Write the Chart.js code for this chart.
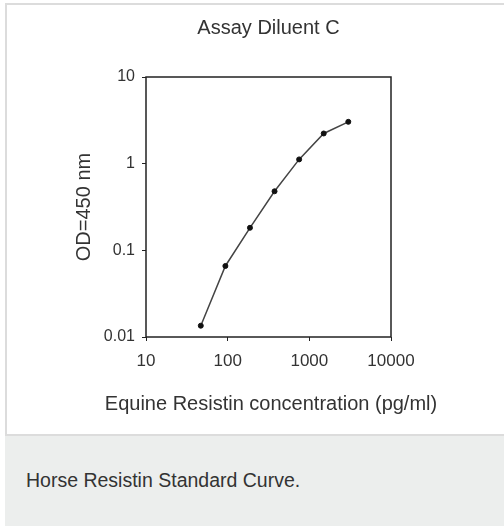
<!DOCTYPE html>
<html>
<head>
<meta charset="utf-8">
<script src="https://cdn.jsdelivr.net/npm/chart.js@4"></script>
<style>
  html, body { margin: 0; padding: 0; background: #fff; }
  body { width: 504px; height: 526px; position: relative; overflow: hidden; font-family: "Liberation Sans", Arial, sans-serif; }
  .panel { position: absolute; left: 5px; top: 3px; width: 520px; height: 429px; border: 2px solid #dcdcdc; border-right: none; background: #fff; }
  .caption { position: absolute; left: 5px; top: 436px; width: 520px; height: 90px; background: #eceeed; }
  .caption p { margin: 0; position: absolute; left: 21px; top: 34px; font-size: 19.5px; line-height: 20px; color: #333; white-space: nowrap; }
  #wrap { position: absolute; left: 0; top: 0; width: 504px; height: 434px; }
</style>
</head>
<body>
<div class="panel"></div>
<div class="caption"><p>Horse Resistin Standard Curve.</p></div>
<div id="wrap"><canvas id="myChart" aria-label="chart" role="img"></canvas></div>
<script>
// standard curve points
const concentrations = [46.875, 93.75, 187.5, 375, 750, 1500, 3000];
const odValues = [0.0135, 0.066, 0.182, 0.48, 1.12, 2.23, 3.04];
const xTicks = [10, 100, 1000, 10000];
const yTicks = [0.01, 0.1, 1, 10];

Chart.defaults.font.family = '"Liberation Sans", Arial, sans-serif';
Chart.defaults.color = "#333";

// box round the plot area
const frame = {
  id: "frame",
  afterDraw(chart) {
    const { ctx, chartArea } = chart;
    ctx.save();
    ctx.strokeStyle = "#222";
    ctx.lineWidth = 1.5;
    ctx.strokeRect(chartArea.left, chartArea.top, chartArea.right - chartArea.left, chartArea.bottom - chartArea.top);
    ctx.restore();
  },
};

const myChart = new Chart(document.getElementById("myChart"), {
  type: "line",
  data: {
    datasets: [
      {
        label: "Assay Diluent C",
        data: concentrations.map((c, i) => ({ x: c, y: odValues[i] })),
        borderColor: "#444",
        borderWidth: 1.5,
        tension: 0,
        pointRadius: 2.5,
        pointBackgroundColor: "#111",
        pointBorderColor: "#111",
        pointBorderWidth: 1,
      },
    ],
  },
  options: {
    responsive: true,
    maintainAspectRatio: false,
    animation: false,
    layout: { padding: { left: 38, right: 0, top: 0, bottom: 0 } },
    plugins: {
      legend: { display: false },
      tooltip: { enabled: false },
      title: {
        display: true,
        fullSize: false,
        text: "Assay Diluent C",
        color: "#333",
        font: { size: 20, weight: "normal" },
        padding: { top: 16, bottom: 37 },
      },
      // x axis title, drawn as a bottom subtitle so it is not squeezed to the plot width
      subtitle: {
        display: true,
        position: "bottom",
        text: "Equine Resistin concentration (pg/ml)",
        color: "#333",
        font: { size: 20, weight: "normal" },
        padding: { top: 15.5, bottom: 17.5 },
      },
    },
    scales: {
      x: {
        type: "logarithmic",
        min: 10,
        max: 10000,
        afterBuildTicks: (scale) => {
          scale.ticks = xTicks.map((v) => ({ value: v }));
        },
        afterFit: (scale) => {
          scale.height = 40;
        },
        border: { display: false },
        grid: { drawOnChartArea: false, drawTicks: true, tickLength: 4, color: "#222" },
        ticks: { font: { size: 17 }, padding: 10, maxRotation: 0, callback: (v) => String(v) },
      },
      y: {
        type: "logarithmic",
        min: 0.01,
        max: 10,
        afterBuildTicks: (scale) => {
          scale.ticks = yTicks.map((v) => ({ value: v }));
        },
        afterFit: (scale) => {
          scale.width = 108;
        },
        border: { display: false },
        grid: { drawOnChartArea: false, drawTicks: true, tickLength: 4, color: "#222" },
        ticks: { font: { size: 16 }, padding: 7, callback: (v) => String(v) },
        title: {
          display: true,
          text: "OD=450 nm",
          font: { size: 20 },
          padding: { top: 34, bottom: 0 },
        },
      },
      // empty right axis that holds the space right of the plot
      yRight: {
        type: "linear",
        position: "right",
        display: true,
        afterFit: (scale) => {
          scale.width = 113;
        },
        border: { display: false },
        grid: { display: false },
        ticks: { display: false },
      },
    },
  },
  plugins: [frame],
});
</script>
</body>
</html>
